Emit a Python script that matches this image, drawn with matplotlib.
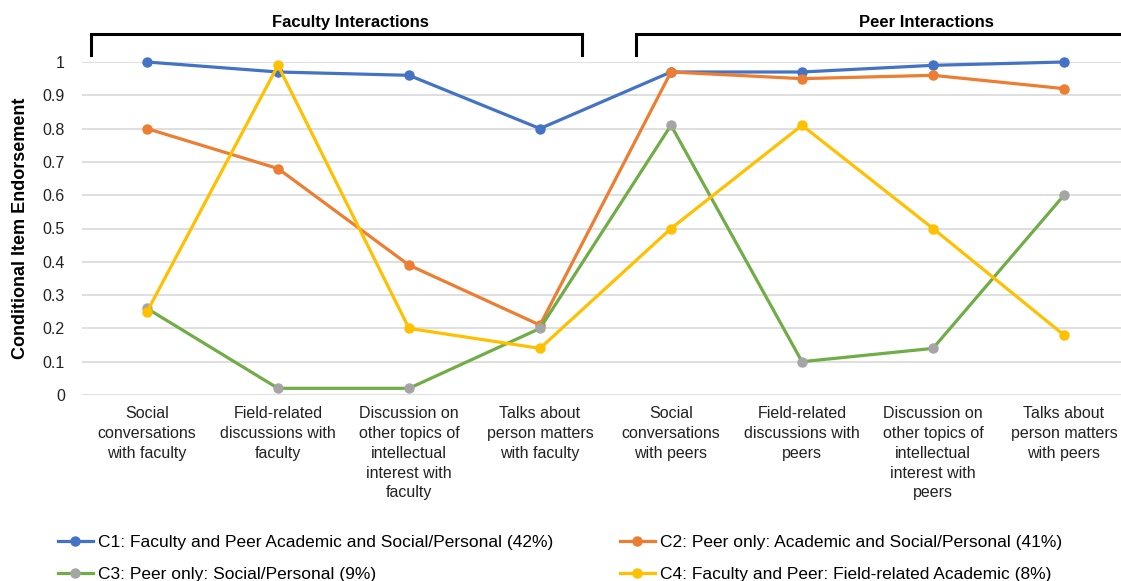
import matplotlib
matplotlib.use("Agg")
import matplotlib.pyplot as plt

plt.rcParams['font.family'] = ['Liberation Sans', 'DejaVu Sans']

categories = [
    "Social\nconversations\nwith faculty",
    "Field-related\ndiscussions with\nfaculty",
    "Discussion on\nother topics of\nintellectual\ninterest with\nfaculty",
    "Talks about\nperson matters\nwith faculty",
    "Social\nconversations\nwith peers",
    "Field-related\ndiscussions with\npeers",
    "Discussion on\nother topics of\nintellectual\ninterest with\npeers",
    "Talks about\nperson matters\nwith peers",
]
c1 = [1.00, 0.97, 0.96, 0.80, 0.97, 0.97, 0.99, 1.00]
c2 = [0.80, 0.68, 0.39, 0.21, 0.97, 0.95, 0.96, 0.92]
c3 = [0.26, 0.02, 0.02, 0.20, 0.81, 0.10, 0.14, 0.60]
c4 = [0.25, 0.99, 0.20, 0.14, 0.50, 0.81, 0.50, 0.18]

series_names = [
    "C1: Faculty and Peer Academic and Social/Personal (42%)",
    "C2: Peer only: Academic and Social/Personal (41%)",
    "C3: Peer only: Social/Personal (9%)",
    "C4: Faculty and Peer: Field-related Academic (8%)",
]
group_titles = ["Faculty Interactions", "Peer Interactions"]
yticks = [0, 0.1, 0.2, 0.3, 0.4, 0.5, 0.6, 0.7, 0.8, 0.9, 1]

W, H = 1121, 581
fig = plt.figure(figsize=(W / 100, H / 100), dpi=100)
ax = fig.add_axes([81.5 / W, (H - 395) / H, 1048 / W, 333 / H])

x = list(range(len(categories)))
line_colors = ["#4472C4", "#ED7D31", "#70AD47", "#FFC000"]
marker_colors = ["#4472C4", "#ED7D31", "#A5A5A5", "#FFC000"]
handles = []
for vals, name, lc, mc in zip([c1, c2, c3, c4], series_names, line_colors, marker_colors):
    h, = ax.plot(x, vals, color=lc, lw=2.3, marker='o', ms=6.5,
                 markerfacecolor=mc, markeredgecolor=mc, label=name, clip_on=False)
    handles.append(h)

ax.set_xlim(-0.5, 7.5)
ax.set_ylim(0, 1)
ax.set_yticks(yticks)
ax.set_yticklabels(["0" if v == 0 else ("1" if v == 1 else f"{v:.1f}") for v in yticks])
ax.set_xticks(x)
ax.set_xticklabels(categories, fontsize=11.5, linespacing=1.4, va='top')
ax.tick_params(axis='both', length=0, labelsize=11.5, colors='#222222')
ax.tick_params(axis='x', pad=8)
ax.tick_params(axis='y', pad=12)
ax.grid(axis='y', color='#D9D9D9', lw=1.2)
ax.set_axisbelow(True)
for s in ax.spines.values():
    s.set_visible(False)

ax.set_ylabel("Conditional Item Endorsement", fontsize=13, fontweight='bold', labelpad=10)

# group brackets above the plot
for x0, x1 in [(-0.427, 3.32), (3.73, 7.6)]:
    ax.plot([x0, x0, x1], [1.021, 1.084, 1.084], color='black', lw=2.2, clip_on=False,
            solid_joinstyle='miter')
ax.plot([3.32, 3.32], [1.084, 1.021], color='black', lw=2.2, clip_on=False)
ax.text(1.55, 1.095, group_titles[0], fontsize=12, fontweight='bold', ha='center', va='bottom')
ax.text(5.95, 1.095, group_titles[1], fontsize=12, fontweight='bold', ha='center', va='bottom')

order = [0, 2, 1, 3]
fig.legend([handles[i] for i in order], [series_names[i] for i in order],
           ncol=2, loc='upper left', bbox_to_anchor=(58 / W, 1 - 535 / H),
           frameon=False, fontsize=12.5, handlelength=2.0, handletextpad=0.3,
           columnspacing=3.85, labelspacing=0.95, borderpad=0, borderaxespad=0)

fig.savefig("out.png", dpi=100)
